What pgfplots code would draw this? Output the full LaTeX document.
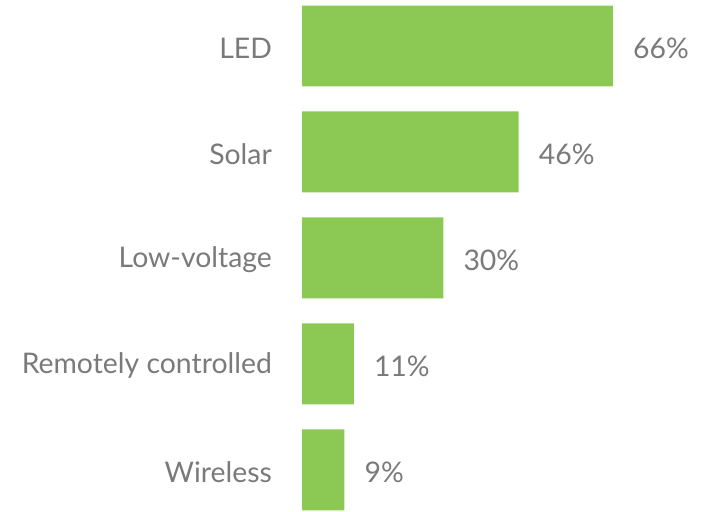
\documentclass[border=0pt]{standalone}
\usepackage{pgfplots}
\pgfplotsset{compat=1.18}
\usepackage{fontspec}
\setmainfont{Lato}
\definecolor{bargreen}{HTML}{8CC954}
\definecolor{txtgray}{HTML}{7A7A7A}
\begin{document}
\begin{tikzpicture}
\begin{axis}[
  scale only axis,
  width=705bp, height=512bp,
  xmin=-64.09, xmax=85.53,
  ymin=-0.396, ymax=4.434,
  axis line style={draw=none},
  major tick length=0pt,
  xtick=\empty,
  ytick={0,1,2,3,4},
  yticklabels={Wireless,Remotely controlled,Low-voltage,Solar,LED},
  yticklabel style={anchor=east, inner sep=0pt, xshift=272bp, yshift=-2bp, font=\fontsize{28.5}{34}\selectfont, text=txtgray},
  xbar, bar width=81bp,
  clip=false,
  nodes near coords={\pgfmathprintnumber[assume math mode=true]{\pgfplotspointmeta}\%},
  point meta=x,
  every node near coord/.append style={anchor=west, inner sep=0pt, xshift=20bp, yshift=-2bp, font=\fontsize{28.5}{34}\selectfont, text=txtgray},
]
\addplot[fill=bargreen, draw=none] coordinates {
  (66,4)
  (46,3)
  (30,2)
  (11,1)
  (9,0)
};
\path[draw=none] (rel axis cs:0,0) rectangle (rel axis cs:1,1);
\end{axis}
\end{tikzpicture}
\end{document}
